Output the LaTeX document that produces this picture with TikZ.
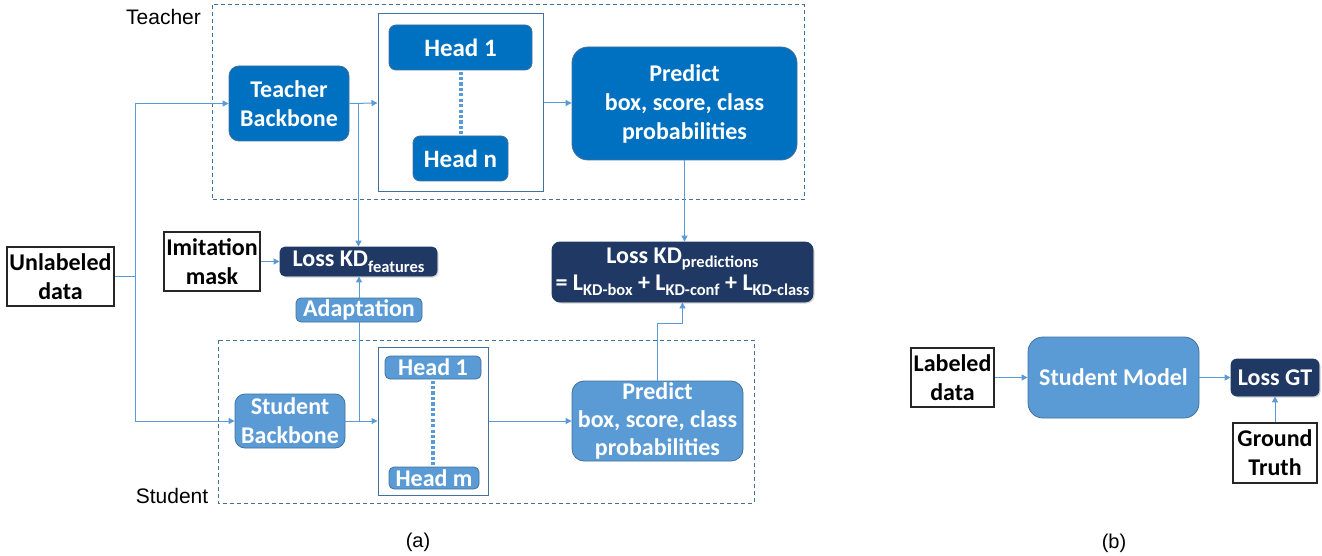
\documentclass[tikz,border=0pt]{standalone}
\usepackage{fontspec}
\setmainfont{Carlito}
\newfontfamily\arialf{Liberation Sans}
\usetikzlibrary{arrows.meta,shadows,calc}
\definecolor{tblue}{HTML}{0070C0}
\definecolor{sblue}{HTML}{5B9BD5}
\definecolor{navy}{HTML}{203864}
\definecolor{outl}{HTML}{41719C}
\definecolor{connc}{HTML}{5B9BD5}
\newcommand{\mysub}[2][5pt]{\raisebox{-#1}{\fontsize{16.5}{16.5}\selectfont #2}}
\begin{document}
\begin{tikzpicture}[x=1pt,y=-1pt,
  every node/.style={inner sep=0pt, align=center, font=\bfseries\fontsize{24}{29}\selectfont},
  tbox/.style={draw=outl, line width=0.8pt, fill=tblue, text=white, rounded corners=10pt},
  sbox/.style={draw=outl, line width=0.8pt, fill=sblue, text=white, rounded corners=10pt},
  nbox/.style={draw=navy, line width=0.8pt, fill=navy, text=white, rounded corners=6pt,
    drop shadow={opacity=0.35, shadow xshift=1.5pt, shadow yshift=-1.5pt}},
  kbox/.style={draw=black!85, line width=1.5pt, fill=white, text=black},
  hbox/.style={draw=outl, line width=1pt},
  dbox/.style={draw=outl, line width=1pt, dash pattern=on 4pt off 3pt},
  conn/.style={draw=connc, line width=1pt},
  dotsq/.style={fill=sblue},
  lbl/.style={font=\arialf\fontsize{21}{21}\selectfont, text=black},
  arr/.style={conn, -{Triangle[length=6pt,width=6pt]}}
]
\useasboundingbox (0,0) rectangle (1322,556);

% dashed groups
\draw[dbox] (212,5) rectangle (804,200);
\draw[dbox] (218,340) rectangle (754,503);
\node[lbl, anchor=base] (tlab) at (163.5,25) {Teacher};
\node[lbl, anchor=base] (slab) at (172,503) {Student};

% teacher
\node[tbox, minimum width=120, minimum height=75] (tb) at (289,103.5) {Teacher\\Backbone};
\node[hbox, minimum width=165, minimum height=178] (thc) at (460.5,103) {};
\node[tbox, rounded corners=7pt, minimum width=143, minimum height=45, font=\bfseries\fontsize{25}{29}\selectfont] (th1) at (460.5,47.5) {Head 1};
\node[tbox, rounded corners=7pt, minimum width=95, minimum height=45, font=\bfseries\fontsize{25}{29}\selectfont] (thn) at (460.5,158.5) {Head n};
\node[tbox, rounded corners=16pt, minimum width=225, minimum height=113] (tp) at (684.5,103.5) {Predict\\box, score, class\\probabilities};

% losses
\node[nbox, minimum width=157, minimum height=29, rounded corners=5pt] (lkf) at (358.5,261.5) {Loss KD\mysub[6pt]{features}};
\node[nbox, minimum width=261, minimum height=60, rounded corners=8pt, font=\bfseries\fontsize{24}{27}\selectfont] (lkp) at (682.5,272)
  {Loss KD\mysub[4pt]{predictions}\\= L\mysub{KD-box} + L\mysub{KD-conf} + L\mysub{KD-class}};
\node[kbox, minimum width=96, minimum height=59] (im) at (212,261.5) {Imitation\\mask};
\node[kbox, minimum width=107, minimum height=59] (ud) at (60.5,276.5) {Unlabeled\\data};
\node[sbox, rounded corners=5pt, minimum width=126, minimum height=24] (ad) at (359,310) {Adaptation};

% student
\node[sbox, minimum width=110, minimum height=54] (sb) at (290,421) {Student\\Backbone};
\node[hbox, minimum width=110, minimum height=148] (shc) at (433,421) {};
\node[sbox, rounded corners=5pt, minimum width=96, minimum height=23] (sh1) at (433,367.5) {Head 1};
\node[sbox, rounded corners=5pt, minimum width=90, minimum height=22] (shm) at (434,478) {Head m};
\node[sbox, rounded corners=12pt, minimum width=171, minimum height=80, font=\bfseries\fontsize{24}{28}\selectfont] (sp) at (657.5,421) {Predict\\box, score, class\\probabilities};

% dotted links between heads
\foreach \t in {0,...,11}
  \fill[dotsq] ($(th1.south)!{(\t+0.5)/12}!(thn.north)$) +(-2,-1.6) rectangle +(2,1.6);
\foreach \t in {0,...,15}
  \fill[dotsq] ($(sh1.south)!{(\t+0.5)/16}!(sh1.south |- shm.north)$) +(-2,-1.6) rectangle +(2,1.6);

% connectors (a)
\coordinate (bus) at (135,276.5);
\coordinate (kink) at (0,323);
\draw[conn] (ud.east) -- (bus);
\draw[arr] (bus) |- (tb.west);
\draw[arr] (bus) |- (sb.west);
\draw[arr] (tb.east) -- (thc.west);
\draw[arr] (thc.east) -- (thc.east -| tp.west);
\draw[arr] (tb.east -| lkf.north) -- (lkf.north);
\draw[arr] (im.east) -- (lkf.west);
\draw[arr] (ad.north) -- (ad.north |- lkf.south);
\draw[conn] (sb.east -| ad.south) -- (ad.south);
\draw[arr] (sb.east) -- (shc.west);
\draw[arr] (shc.east) -- (sp.west);
\draw[arr] (tp.south) -- (tp.south |- lkp.north);
\draw[arr] (sp.north) -- (sp.north |- kink) -| (lkp.south);

% part (b)
\node[kbox, minimum width=83, minimum height=59] (ld) at (952.5,377.5) {Labeled\\data};
\node[sbox, rounded corners=15pt, minimum width=171, minimum height=81] (sm) at (1113.5,377.5) {Student Model};
\node[nbox, rounded corners=6pt, minimum width=88, minimum height=37] (lgt) at (1275,377.5) {Loss GT};
\node[kbox, minimum width=84, minimum height=60] (gt) at (1275,453) {Ground\\Truth};
\draw[arr] (ld.east) -- (sm.west);
\draw[arr] (sm.east) -- (lgt.west);
\draw[arr] (gt.north) -- (lgt.south);

\node[lbl, font=\arialf\fontsize{20}{20}\selectfont] (capa) at (418,542.5) {(a)};
\node[lbl, font=\arialf\fontsize{20}{20}\selectfont] (capb) at (1114,543) {(b)};
\end{tikzpicture}
\end{document}
